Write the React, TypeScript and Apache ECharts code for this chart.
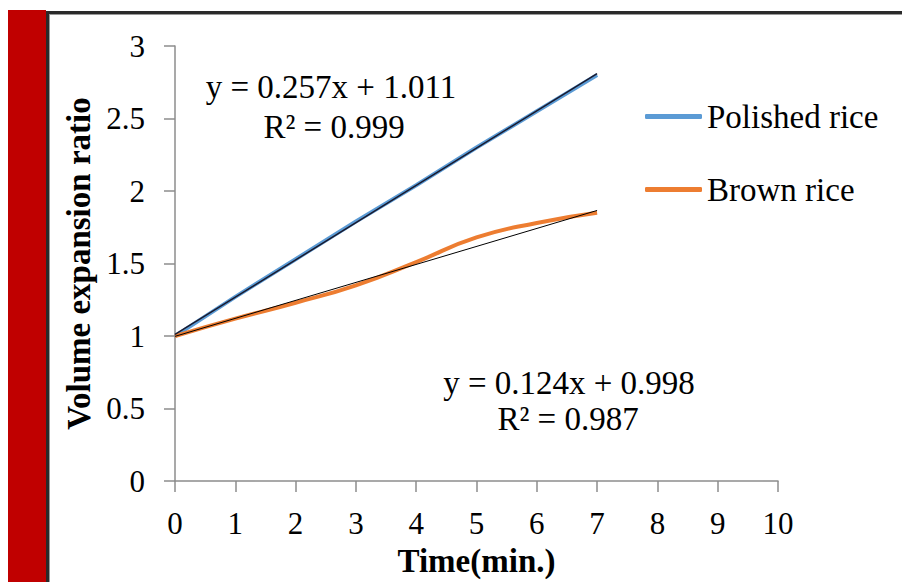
import React, { useEffect, useRef } from "react";
import * as echarts from "echarts";

const times = [0, 1, 2, 3, 4, 5, 6, 7];
const polished = [1.0, 1.27, 1.53, 1.79, 2.04, 2.3, 2.55, 2.8];
const brown = [1.0, 1.12, 1.23, 1.35, 1.51, 1.68, 1.78, 1.85];
const polishedFit = { slope: 0.257, intercept: 1.011 };
const brownFit = { slope: 0.124, intercept: 0.998 };
const xTicks = [0, 1, 2, 3, 4, 5, 6, 7, 8, 9, 10];
const yTicks = [0, 0.5, 1, 1.5, 2, 2.5, 3];

const FONT = "'Liberation Serif', 'Times New Roman', serif";

export default function App() {
  const ref = useRef<HTMLDivElement>(null);
  useEffect(() => {
    document.body.style.margin = "0";
    const chart = echarts.init(ref.current!, null, { renderer: "svg" });
    const fitLine = (f: { slope: number; intercept: number }) => [
      [0, f.intercept],
      [7, +(f.slope * 7 + f.intercept).toFixed(4)],
    ];
    const eq = (text: string, x: number, y: number) => ({
      type: "text",
      x,
      y,
      style: { text, fontFamily: FONT, fontSize: 33, fill: "#000", textAlign: "center", textVerticalAlign: "middle" },
    });
    chart.setOption({
      animation: false,
      backgroundColor: "#ffffff",
      grid: { left: 175, top: 46, right: 124, bottom: 96 },
      xAxis: {
        type: "value",
        min: xTicks[0],
        max: xTicks[xTicks.length - 1],
        interval: 1,
        name: "Time(min.)",
        nameLocation: "middle",
        nameGap: 58,
        nameTextStyle: { fontFamily: FONT, fontSize: 33, fontWeight: "bold", color: "#000" },
        axisLine: { lineStyle: { color: "#8c8c8c", width: 1.5 } },
        axisTick: { length: 11, lineStyle: { color: "#8c8c8c", width: 1.5 } },
        axisLabel: { fontFamily: FONT, fontSize: 31, color: "#000", margin: 27 },
        splitLine: { show: false },
      },
      yAxis: {
        type: "value",
        min: yTicks[0],
        max: yTicks[yTicks.length - 1],
        interval: 0.5,
        name: "Volume expansion ratio",
        nameLocation: "middle",
        nameGap: 74,
        nameTextStyle: { fontFamily: FONT, fontSize: 33, fontWeight: "bold", color: "#000" },
        axisLine: { show: true, lineStyle: { color: "#8c8c8c", width: 1.5 } },
        axisTick: { show: true, length: 11, lineStyle: { color: "#8c8c8c", width: 1.5 } },
        axisLabel: { fontFamily: FONT, fontSize: 31, color: "#000", margin: 30 },
        splitLine: { show: false },
      },
      legend: {
        data: [
          { name: "Polished rice", icon: "roundRect" },
          { name: "Brown rice", icon: "roundRect" },
        ],
        orient: "vertical",
        left: 640,
        top: 95,
        itemWidth: 57,
        itemHeight: 5,
        itemGap: 40,
        textStyle: { fontFamily: FONT, fontSize: 33, color: "#000" },
      },
      series: [
        {
          name: "Polished rice",
          type: "line",
          data: times.map((t, i) => [t, polished[i]]),
          showSymbol: false,
          symbol: "none",
          lineStyle: { color: "#5b9bd5", width: 4 },
          itemStyle: { color: "#5b9bd5" },
        },
        {
          name: "Brown rice",
          type: "line",
          data: times.map((t, i) => [t, brown[i]]),
          smooth: true,
          showSymbol: false,
          symbol: "none",
          lineStyle: { color: "#ed7d31", width: 4 },
          itemStyle: { color: "#ed7d31" },
        },
        {
          name: "Polished fit",
          type: "line",
          data: fitLine(polishedFit),
          showSymbol: false,
          symbol: "none",
          lineStyle: { color: "#1a1a2e", width: 1.5 },
        },
        {
          name: "Brown fit",
          type: "line",
          data: fitLine(brownFit),
          showSymbol: false,
          symbol: "none",
          lineStyle: { color: "#000", width: 1 },
        },
      ],
      graphic: [
        { type: "rect", shape: { x: 8, y: 10, width: 38, height: 572 }, style: { fill: "#c00000" } },
        { type: "rect", shape: { x: 46, y: 11, width: 856, height: 3 }, style: { fill: "#2a2a2a" } },
        { type: "rect", shape: { x: 46, y: 14, width: 856, height: 1 }, style: { fill: "#999" } },
        { type: "rect", shape: { x: 46, y: 11, width: 3, height: 571 }, style: { fill: "#2a2a2a" } },
        { type: "rect", shape: { x: 49, y: 14, width: 1, height: 568 }, style: { fill: "#999" } },
        eq(`y = ${polishedFit.slope}x + ${polishedFit.intercept.toFixed(3)}`, 331, 87),
        eq("R² = 0.999", 334, 127),
        eq(`y = ${brownFit.slope}x + ${brownFit.intercept.toFixed(3)}`, 569, 383),
        eq("R² = 0.987", 568, 419),
      ],
    });
    return () => chart.dispose();
  }, []);
  return <div ref={ref} style={{ width: 902, height: 582 }} />;
}
